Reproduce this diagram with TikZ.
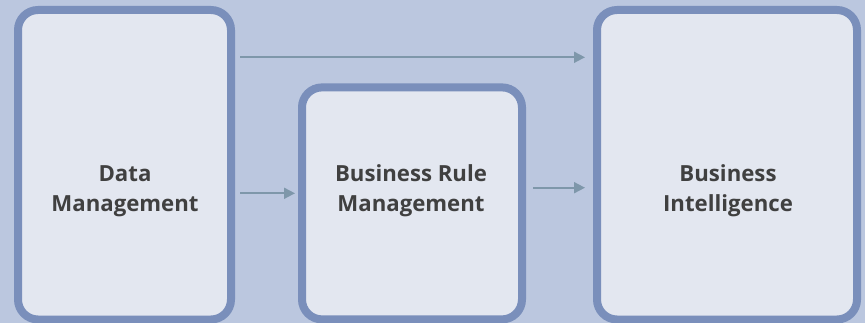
\documentclass[tikz,border=0pt]{standalone}
\usepackage{fontspec}
\setmainfont{Open Sans}
\usetikzlibrary{arrows.meta}
\definecolor{bgc}{RGB}{187,199,223}
\definecolor{boxfill}{RGB}{227,231,240}
\definecolor{boxline}{RGB}{122,143,187}
\definecolor{arrc}{RGB}{126,151,170}
\definecolor{txtc}{RGB}{64,64,64}
\tikzset{
  panel/.style={draw=boxline, fill=boxfill, line width=8pt, rounded corners=20pt, inner sep=0pt, outer sep=4pt},
  lbl/.style={font=\fontsize{22.2}{29.5}\selectfont\bfseries, text=txtc, align=center, inner sep=0pt},
  arr/.style={draw=arrc, line width=1.8pt, -{Triangle[length=11pt,width=11pt]}}
}
\begin{document}
\begin{tikzpicture}[x=1pt,y=-1pt]
\fill[bgc] (0,0) rectangle (865,323);
\useasboundingbox (0,0) rectangle (865,323);
\node[panel, minimum width=213pt, minimum height=309.5pt] (b1) at (124.5,164.75) {};
\node[panel, minimum width=220pt, minimum height=232pt] (b2) at (412,203.4) {};
\node[panel, minimum width=260pt, minimum height=309.5pt] (b3) at (727,164.75) {};
\node[lbl, anchor=base] (t1) at (125,211.5) {Data\\Management};
\node[lbl, anchor=base] (t2) at (411,211.5) {Business Rule\\Management};
\node[lbl, anchor=base] (t3) at (728,211.5) {Business\\Intelligence};
\draw[arr] ([xshift=5pt]b1.east |- 0,57.3) -- ([xshift=-8pt]b3.west |- 0,57.3);
\draw[arr] ([xshift=5pt]b1.east |- 0,193.3) -- ([xshift=-3pt]b2.west |- 0,193.3);
\draw[arr] ([xshift=7pt]b2.east |- 0,187.7) -- ([xshift=-8pt]b3.west |- 0,187.7);
\end{tikzpicture}
\end{document}
